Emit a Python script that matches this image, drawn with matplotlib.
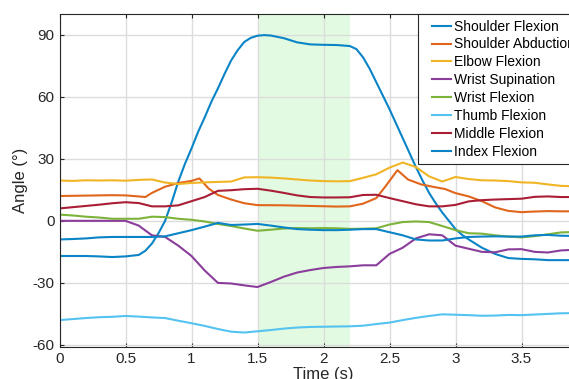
import numpy as np
import matplotlib
matplotlib.use("Agg")
import matplotlib.pyplot as plt
from matplotlib.lines import Line2D
from matplotlib.legend_handler import HandlerLine2D

plt.rcParams['font.family'] = ['Liberation Sans', 'DejaVu Sans']
plt.rcParams['axes.unicode_minus'] = False

# time base (s) shared by most joints
t = np.round(np.arange(0, 3.95, 0.1), 2)

# shoulder flexion moves fast, sampled finer through the swings
t_sf = [0, 0.1, 0.2, 0.3, 0.4, 0.5, 0.6, 0.65, 0.7, 0.75, 0.8, 0.85, 0.9, 0.95,
        1.0, 1.05, 1.1, 1.15, 1.2, 1.25, 1.3, 1.35, 1.4, 1.45, 1.5, 1.55, 1.6,
        1.7, 1.8, 1.9, 2.0, 2.1, 2.2, 2.25, 2.3, 2.35, 2.4, 2.45, 2.5, 2.55,
        2.6, 2.65, 2.7, 2.75, 2.8, 2.85, 2.9, 2.95, 3.0, 3.05, 3.1, 3.15, 3.2,
        3.3, 3.4, 3.5, 3.6, 3.7, 3.8, 3.9]
shoulder_flex = [-17, -17, -17, -17.2, -17.5, -17.2, -16.5, -14.5, -11, -6,
                 0, 9, 19, 27.5, 35, 43, 50, 57.5, 64, 71, 77.5, 82.5, 86.5,
                 88.5, 89.5, 89.8, 89.6, 88.3, 86.3, 85.3, 85.1, 85, 84.5, 83,
                 79, 73.5, 67, 60.5, 54, 47, 40, 33, 26, 19.5, 13.5, 8.5, 4, 0,
                 -4, -6.8, -9, -11, -13, -16, -18, -18.4, -18.6, -19, -19, -19]

# abduction has sharp peaks, so it gets its own sample times
t_abd = [0, 0.2, 0.4, 0.5, 0.6, 0.65, 0.7, 0.8, 0.9, 1.0, 1.06, 1.13, 1.2, 1.3,
         1.4, 1.5, 1.7, 1.9, 2.1, 2.2, 2.3, 2.4, 2.47, 2.56, 2.64, 2.74, 2.85,
         2.92, 3.0, 3.1, 3.2, 3.3, 3.4, 3.5, 3.6, 3.7, 3.8, 3.9]
shoulder_abd = [12, 12.2, 12.4, 12.3, 11.8, 11.5, 13.5, 16.5, 18.3, 19.3, 20.5,
                15.6, 12.5, 10.3, 8.5, 7.6, 7.5, 7.2, 6.9, 7.0, 8.3, 11, 16.7,
                24.5, 20, 17.6, 16.2, 15.4, 13.4, 11.8, 9.5, 6.5, 4.8, 4.2, 4.5,
                4.7, 4.6, 4.6]

elbow_flex = [19.5, 19.3, 19.6, 19.5, 19.6, 19.4, 19.8, 20, 18.5, 17.8,
              18.3, 18.6, 18.8, 19, 21, 21.1, 20.9, 20.5, 20, 19.5,
              19.2, 19.1, 19.2, 20.8, 22.5, 25.7, 28.2, 26, 21.5, 19,
              21.2, 20.2, 19.6, 19.5, 19.2, 18.6, 18.4, 17.6, 16.9, 16.7]

wrist_sup = [0, 0, 0, 0, 0, 0, -2.3, -7, -7.8, -12,
             -17, -24, -30, -30.3, -31.2, -32, -29.6, -27, -25, -23.8,
             -22.8, -22.3, -22, -21.5, -21.5, -16, -13, -8.5, -6.5, -7,
             -12, -13.5, -15, -15.2, -13.8, -13.7, -15, -15.3, -14.3, -14]

wrist_flex = [3, 2.6, 2, 1.6, 1, 1, 1, 2, 1.8, 1,
              0.5, -0.3, -1.5, -2.5, -3.7, -4.8, -4.3, -3.7, -3.5, -3.6,
              -3.5, -3.6, -3.9, -3.8, -3.6, -1.8, -0.6, -0.3, -0.6, -2.5,
              -4.5, -6, -6.2, -7, -7.6, -8, -7.4, -6.5, -5.6, -5.4]

thumb_flex = [-48, -47.5, -47, -46.6, -46.4, -46, -46.3, -46.7, -47, -48.3,
              -49.5, -50.8, -52.3, -53.6, -54, -53.4, -52.8, -52.1, -51.6, -51.3,
              -51.2, -51.1, -51, -50.7, -49.9, -49.2, -48, -46.9, -46, -45.2,
              -45.4, -45.6, -45.9, -45.8, -45.5, -45.6, -45.3, -45, -44.7, -44.6]

middle_flex = [6, 6.6, 7.2, 7.8, 8.5, 9, 8.6, 7, 7, 7.5,
               9.5, 11.5, 14.5, 14.8, 15.3, 15.5, 14.6, 13.5, 12.3, 11.5,
               11.3, 11.3, 11.4, 12.5, 12.6, 11, 9.5, 8, 7, 7,
               7.7, 9.4, 10, 10.3, 10.5, 10.7, 11.6, 11.8, 11.5, 11.5]

index_flex = [-9, -8.8, -8.5, -8, -7.8, -7.8, -7.8, -7.8, -7.5, -6,
              -4.5, -2.8, -1, -2, -1.8, -1.5, -2.3, -3.2, -4, -4.3,
              -4.5, -4.5, -4.3, -4, -4, -5.5, -7, -9, -9.5, -9.5,
              -8.5, -7.8, -7.6, -7.5, -7.6, -7.6, -7, -6.8, -7.2, -7.3]

hold_start, hold_end = 1.5, 2.2

series = [
    ("Shoulder Flexion", t_sf, shoulder_flex, "#0A84C6"),
    ("Shoulder Abduction", t_abd, shoulder_abd, "#E0661C"),
    ("Elbow Flexion", t, elbow_flex, "#F0B525"),
    ("Wrist Supination", t, wrist_sup, "#8A3D9A"),
    ("Wrist Flexion", t, wrist_flex, "#7DB33A"),
    ("Thumb Flexion", t, thumb_flex, "#55C3F0"),
    ("Middle Flexion", t, middle_flex, "#A91E36"),
    ("Index Flexion", t, index_flex, "#0A84C6"),
]

fig = plt.figure(figsize=(5.69, 3.79), dpi=100)
# axes run past the right edge of the figure, like the cropped original
ax = fig.add_axes([59.5 / 569, 32 / 379, 528 / 569, 333 / 379])

ax.axvspan(hold_start, hold_end, color="#E2FAE2", zorder=0, lw=0)

for name, tt, yy, c in series:
    ax.plot(tt, yy, color=c, lw=1.5, label=name)

ax.set_xlim(0, 4.0)
ax.set_ylim(-61, 100)
ax.set_xticks([0, 0.5, 1, 1.5, 2, 2.5, 3, 3.5])
ax.set_xticklabels(["0", "0.5", "1", "1.5", "2", "2.5", "3", "3.5"])
ax.set_yticks([-60, -30, 0, 30, 60, 90])
ax.set_yticklabels(["-60", "-30", "0", "30", "60", "90"])

ax.grid(True, color="#dcdcdc", lw=1.0)
ax.set_axisbelow(True)
ax.tick_params(direction="in", top=True, right=True, length=3,
               labelsize=11, colors="#262626", width=0.8)
for s in ax.spines.values():
    s.set_color("#262626")
    s.set_linewidth(0.8)

ax.set_xlabel("Time (s)", fontsize=12, color="#262626", labelpad=1)
ax.set_ylabel("Angle (°)", fontsize=12, color="#262626", labelpad=3)

leg = ax.legend(loc="upper left", bbox_to_anchor=(418 / 569, 1 - 14 / 379),
                bbox_transform=fig.transFigure, fontsize=10,
                handlelength=2.0, handletextpad=0.2, labelspacing=0.28,
                borderpad=0.4, borderaxespad=0, fancybox=False,
                framealpha=1, edgecolor="#262626",
                handler_map={Line2D: HandlerLine2D(xpad=0.6)})
leg.get_frame().set_linewidth(0.8)

fig.savefig("out.png", dpi=100)
